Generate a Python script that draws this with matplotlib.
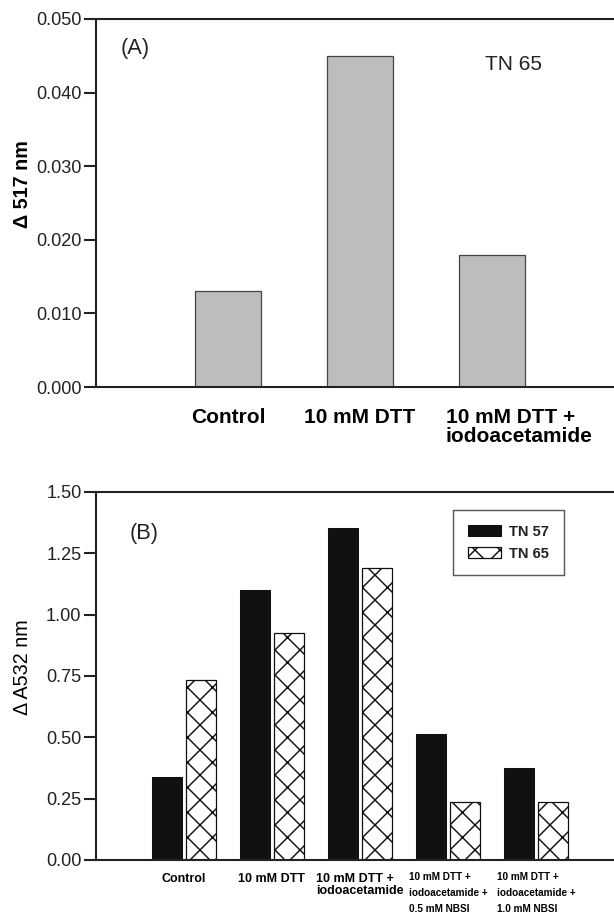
import numpy as np
import matplotlib
matplotlib.use('Agg')
import matplotlib.pyplot as plt
from matplotlib.transforms import ScaledTranslation

plt.rcParams['font.family'] = ['Liberation Sans', 'DejaVu Sans']
plt.rcParams['hatch.linewidth'] = 0.7
plt.rcParams['text.color'] = '#222222'

# panel A data
cats_a = ['Control', '10 mM DTT', '10 mM DTT +\niodoacetamide']
vals_a = [0.013, 0.045, 0.018]

# panel B data
cats_b = ['Control', '10 mM DTT', '10 mM DTT +\niodoacetamide',
          '10 mM DTT +\niodoacetamide +\n0.5 mM NBSI',
          '10 mM DTT +\niodoacetamide +\n1.0 mM NBSI']
tn57 = [0.34, 1.10, 1.355, 0.515, 0.375]
tn65 = [0.735, 0.925, 1.19, 0.235, 0.235]

dpi = 150
fig = plt.figure(figsize=(614 / dpi, 924 / dpi), dpi=dpi)

W, H = 614.0, 924.0
ax_a = fig.add_axes([96 / W, 1 - 387 / H, 528 / W, 368 / H])
ax_b = fig.add_axes([96 / W, 1 - 860 / H, 528 / W, 368 / H])

def style_axes(ax):
    for s in ['left', 'top', 'bottom']:
        ax.spines[s].set_linewidth(1.0)
        ax.spines[s].set_color('#222222')
    ax.spines['right'].set_visible(False)
    ax.tick_params(axis='y', direction='out', length=5.8, width=1.0,
                   pad=1.2, labelsize=8.7, colors='#222222')
    ax.tick_params(axis='x', length=0)

# ---- panel A ----
xa = np.arange(1, len(vals_a) + 1)
ax_a.bar(xa, vals_a, width=0.5, color='#bdbdbd', edgecolor='#444444',
         linewidth=0.6)
ax_a.set_xlim(0, 4)
ax_a.set_ylim(0, 0.05)
ax_a.set_yticks(np.arange(0, 0.0501, 0.01))
ax_a.set_yticklabels(['%.3f' % v for v in np.arange(0, 0.0501, 0.01)])
ax_a.set_xticks(xa)
ax_a.set_xticklabels(cats_a, fontsize=10, fontweight='bold',
                     linespacing=1.0, multialignment='left')
ax_a.tick_params(axis='x', pad=10)
style_axes(ax_a)
lbls = ax_a.get_xticklabels()
lbls[2].set_transform(lbls[2].get_transform() +
                      ScaledTranslation(27 / dpi, 0, fig.dpi_scale_trans))
ax_a.set_ylabel('Δ 517 nm', fontsize=9.5, fontweight='bold')
ax_a.yaxis.set_label_coords(-0.139, 0.552)
ax_a.yaxis.label.set_verticalalignment('center')
ax_a.text(0.0748, 0.921, '(A)', transform=ax_a.transAxes, fontsize=10.5,
          ha='center', va='center')
ax_a.text(0.7907, 0.876, 'TN 65', transform=ax_a.transAxes, fontsize=10,
          ha='center', va='center')

# ---- panel B ----
xb = np.arange(1, len(tn57) + 1)
ax_b.bar(xb - 0.195, tn57, width=0.34, color='#111111', edgecolor='#111111',
         linewidth=0.5, label='TN 57')
ax_b.bar(xb + 0.195, tn65, width=0.34, color='white', edgecolor='#111111',
         linewidth=0.6, hatch='xx', label='TN 65')
ax_b.set_xlim(0, 6)
ax_b.set_ylim(0, 1.5)
ax_b.set_yticks(np.arange(0, 1.501, 0.25))
ax_b.set_yticklabels(['%.2f' % v for v in np.arange(0, 1.501, 0.25)])
ax_b.set_xticks(xb)
ax_b.set_xticklabels(cats_b, fontweight='bold', multialignment='left')
ax_b.tick_params(axis='x', pad=6)
style_axes(ax_b)
for i, t in enumerate(ax_b.get_xticklabels()):
    if i < 3:
        t.set_fontsize(6)
        t.set_linespacing(1.0)
    else:
        t.set_fontsize(4.8)
        t.set_linespacing(1.7)
ax_b.set_ylabel('Δ A532 nm', fontsize=9.5)
ax_b.yaxis.set_label_coords(-0.139, 0.523)
ax_b.yaxis.label.set_verticalalignment('center')
ax_b.text(0.0909, 0.887, '(B)', transform=ax_b.transAxes, fontsize=10.5,
          ha='center', va='center')
leg = ax_b.legend(loc='upper left', bbox_to_anchor=(0.676, 0.951),
                  fancybox=False, frameon=True, edgecolor='#333333',
                  prop={'weight': 'bold', 'size': 7}, handlelength=2.3,
                  handleheight=0.75, handletextpad=0.55, borderpad=1.0,
                  labelspacing=0.55, borderaxespad=0)
leg.get_frame().set_linewidth(0.7)

fig.savefig('out.png', dpi=dpi)
